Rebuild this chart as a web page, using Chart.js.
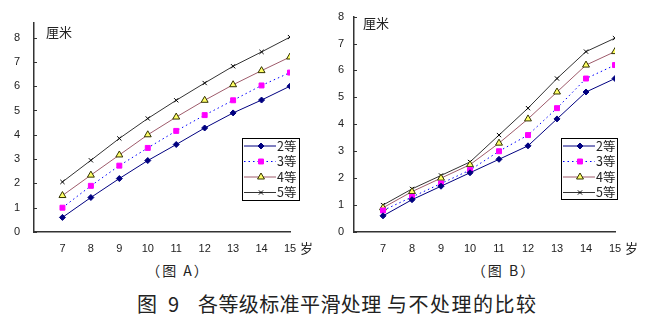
<!DOCTYPE html>
<html><head><meta charset="utf-8">
<script src="https://cdn.jsdelivr.net/npm/chart.js@4"></script>
<style>
html,body{margin:0;padding:0;background:#fff;width:656px;height:326px;overflow:hidden;}
#wrap{position:relative;width:656px;height:326px;}
canvas{position:absolute;top:0;}
.cap{position:absolute;font-family:"Noto Sans CJK SC",sans-serif;color:#222;white-space:pre;transform:translate(-50%,-50%);letter-spacing:2px;}
.t{position:absolute;font-family:"Noto Sans CJK SC",sans-serif;color:#222;white-space:pre;font-size:20px;top:304px;transform:translateY(-50%);line-height:1;}
</style></head>
<body><div id="wrap">
<div style="position:absolute;left:0;top:0;width:328px;height:260px"><canvas id="cA" width="328" height="260"></canvas></div>
<div style="position:absolute;left:328px;top:0;width:328px;height:260px"><canvas id="cB" width="328" height="260"></canvas></div>
<div class="cap" style="left:178px;top:270px;font-size:14px">（图 A）</div>
<div class="cap" style="left:504px;top:270px;font-size:14px">（图 B）</div>
<div class="t" style="left:137px">图</div>
<div class="t" style="left:168px">9</div>
<div class="t" style="left:198px;letter-spacing:0.4px">各等级标准平滑处理</div>
<div class="t" style="left:387px;letter-spacing:1.5px">与不处理的比较</div>
</div>
<script>
// Data
const ages = [7, 8, 9, 10, 11, 12, 13, 14, 15];
const seriesNames = ['2等', '3等', '4等', '5等'];
// Chart A (smoothed)
const a2 = [0.6, 1.42, 2.2, 2.94, 3.6, 4.28, 4.9, 5.43, 6.0];
const a3 = [1.0, 1.9, 2.73, 3.46, 4.16, 4.81, 5.42, 6.03, 6.56];
const a4 = [1.5, 2.34, 3.17, 4.0, 4.73, 5.42, 6.06, 6.64, 7.2];
const a5 = [2.06, 2.95, 3.85, 4.67, 5.42, 6.13, 6.82, 7.41, 8.02];
// Chart B (not smoothed)
const b2 = [0.6, 1.2, 1.7, 2.2, 2.7, 3.2, 4.2, 5.2, 5.7];
const b3 = [0.8, 1.3, 1.8, 2.3, 3.0, 3.6, 4.6, 5.7, 6.2];
const b4 = [0.9, 1.5, 2.0, 2.5, 3.3, 4.2, 5.2, 6.2, 6.7];
const b5 = [1.0, 1.6, 2.1, 2.6, 3.6, 4.6, 5.7, 6.7, 7.2];
const yTicks = [0, 1, 2, 3, 4, 5, 6, 7, 8];
const xUnit = '岁';
const yUnit = '厘米';

const styles = [
  {borderColor:'#000080', borderDash:[], pointStyle:'rectRot', pointRadius:3, pointBackgroundColor:'#000080', pointBorderColor:'#000080'},
  {borderColor:'#0000FF', borderDash:[1.5,3], pointStyle:'rect', pointRadius:3.5, pointBackgroundColor:'#FF00FF', pointBorderColor:'#FF00FF'},
  {borderColor:'#9E5B6B', borderDash:[], pointStyle:'triangle', pointRadius:4, pointBackgroundColor:'#FFFF66', pointBorderColor:'#333300'},
  {borderColor:'#333333', borderDash:[], pointStyle:'crossRot', pointRadius:3, pointBackgroundColor:'#000', pointBorderColor:'#000'}
];

function makeDatasets(arrs){
  return arrs.map((arr,i)=>Object.assign({
    label: seriesNames[i],
    data: ages.map((a,j)=>({x:a, y:arr[j]})),
    borderWidth:1, pointBorderWidth:1, tension:0, fill:false
  }, styles[i]));
}

const FONT = {family:'"Liberation Sans", "Noto Sans", sans-serif', size:11};

const decoPlugin = {
  id:'deco',
  afterDraw(chart, args, opts){
    const ctx = chart.ctx, ca = chart.chartArea, ys = chart.scales.y;
    ctx.save();
    // inward tick marks on y axis
    ctx.strokeStyle = '#333'; ctx.lineWidth = 1;
    yTicks.forEach(v=>{
      const p = Math.round(ys.getPixelForValue(v)) + 0.5;
      ctx.beginPath(); ctx.moveTo(ca.left, p); ctx.lineTo(ca.left+3, p); ctx.stroke();
    });
    // unit labels
    ctx.fillStyle = '#222';
    ctx.font = '13px "Noto Sans CJK SC", sans-serif';
    ctx.textBaseline = 'middle'; ctx.textAlign = 'left';
    ctx.fillText(yUnit, opts.ux, opts.uy);
    ctx.fillText(xUnit, opts.sx, opts.sy);
    // legend box
    const L = opts.legend;
    ctx.fillStyle = '#fff';
    ctx.fillRect(L.x, L.y, L.w, L.h);
    ctx.strokeStyle = '#000'; ctx.lineWidth = 1;
    ctx.strokeRect(L.x+0.5, L.y+0.5, L.w, L.h);
    chart.data.datasets.forEach((ds,i)=>{
      const yy = L.y + 8 + i*15.5;
      ctx.save();
      ctx.strokeStyle = ds.borderColor; ctx.lineWidth = 1;
      ctx.setLineDash(ds.borderDash || []);
      ctx.beginPath(); ctx.moveTo(L.x+2, yy); ctx.lineTo(L.x+34, yy); ctx.stroke();
      ctx.restore();
      ctx.save();
      ctx.fillStyle = ds.pointBackgroundColor; ctx.strokeStyle = ds.pointBorderColor; ctx.lineWidth = 1;
      Chart.helpers.drawPoint(ctx, {pointStyle:ds.pointStyle, radius:ds.pointRadius, borderWidth:1, rotation:0}, L.x+19, yy);
      ctx.restore();
      ctx.fillStyle = '#222';
      ctx.font = '12.5px "Noto Sans CJK SC", sans-serif';
      ctx.textAlign = 'left'; ctx.textBaseline = 'middle';
      ctx.fillText(ds.label, L.x+35, yy);
    });
    ctx.restore();
  }
};

function makeChart(id, arrs, cfg){
  return new Chart(document.getElementById(id), {
    type:'line',
    data:{datasets: makeDatasets(arrs)},
    plugins:[decoPlugin],
    options:{
      responsive:false, animation:false, maintainAspectRatio:false,
      layout:{padding:{left:0, top:cfg.top, right:cfg.right, bottom:0}},
      plugins:{legend:{display:false}, tooltip:{enabled:false}, deco:cfg.deco},
      scales:{
        x:{type:'linear', min:6, max:15,
           afterFit:(s)=>{s.height = 28;},
           afterBuildTicks:(s)=>{s.ticks = [6].concat(ages).map(v=>({value:v}));},
           ticks:{callback:(v)=> v===6 ? '' : String(v), autoSkip:false, maxRotation:0, padding:10, color:'#222', font:FONT},
           grid:{display:true, drawOnChartArea:false, drawTicks:false},
           border:{display:true, color:'#333', width:1.5}},
        y:{type:'linear', min:0, max:cfg.ymax,
           afterFit:(s)=>{s.width = cfg.yw;},
           afterBuildTicks:(s)=>{s.ticks = yTicks.map(v=>({value:v}));},
           ticks:{autoSkip:false, padding:cfg.ypad, color:'#222', font:FONT},
           grid:{display:true, drawOnChartArea:false, drawTicks:false},
           border:{display:true, color:'#333', width:1.5}}
      }
    }
  });
}

makeChart('cA', [a2,a3,a4,a5], {top:23, right:38, ymax:8.6, yw:34, ypad:14,
  deco:{ux:46, uy:32, sx:300, sy:248, legend:{x:242, y:138, w:57, h:62}}});
makeChart('cB', [b2,b3,b4,b5], {top:16, right:41, ymax:8, yw:26, ypad:10,
  deco:{ux:35, uy:23, sx:297, sy:248, legend:{x:233, y:138, w:56, h:61}}});
</script>
</body></html>
